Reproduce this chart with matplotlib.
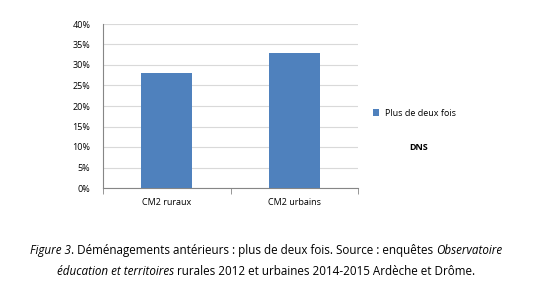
import matplotlib.pyplot as plt
from matplotlib.offsetbox import TextArea, HPacker, VPacker, AnchoredOffsetbox
from matplotlib.ticker import PercentFormatter

categories = ["CM2 ruraux", "CM2 urbains"]
values = [28, 33]
series_label = "Plus de deux fois"
yticks = [0, 5, 10, 15, 20, 25, 30, 35, 40]

BLUE = "#4F81BD"
AXIS_GREY = "#868686"
GRID_GREY = "#D9D9D9"
FONT = "Open Sans"

plt.rcParams["font.family"] = [FONT, "DejaVu Sans"]

fig = plt.figure(figsize=(5.36, 2.98), dpi=100)
# axes placed in pixels: left 103, right 358, top 24, bottom 188
ax = fig.add_axes([103 / 536, 1 - 188 / 298, 255 / 536, 164 / 298])

x = list(range(len(categories)))
ax.bar(x, values, width=0.4, color=BLUE, label=series_label, zorder=3)

ax.set_xlim(-0.5, len(categories) - 0.5)
ax.set_ylim(0, 40)
ax.set_yticks(yticks)
ax.yaxis.set_major_formatter(PercentFormatter(decimals=0))
ax.set_xticks(x)
ax.set_xticklabels(categories)
ax.set_xticks([-0.5, 0.5, 1.5], minor=True)
ax.tick_params(axis="x", which="major", length=0, pad=7, labelsize=6.5)
ax.tick_params(axis="x", which="minor", length=4, color=AXIS_GREY, direction="out")
ax.tick_params(axis="y", length=0, pad=9, labelsize=6.5)

ax.grid(axis="y", color=GRID_GREY, linewidth=0.8, zorder=0)
for side in ["top", "right"]:
    ax.spines[side].set_visible(False)
for side in ["left", "bottom"]:
    ax.spines[side].set_color(AXIS_GREY)
    ax.spines[side].set_linewidth(0.8)

fig.legend(loc="center left", bbox_to_anchor=(365 / 536, 1 - 113 / 298),
           frameon=False, fontsize=6.5, handlelength=0.7, handleheight=0.7,
           handletextpad=0.6)
fig.text(419 / 536, 1 - 147 / 298, "DNS", fontsize=6.5, fontweight="bold",
         ha="center", va="center")

# caption with mixed italic segments
fs = 8.4
def seg(s, italic=False):
    return TextArea(s, textprops=dict(fontsize=fs, family=FONT,
                                      style="italic" if italic else "normal"))

line1 = HPacker(children=[
    seg("Figure 3", True),
    seg(". Déménagements antérieurs : plus de deux fois. Source : enquêtes "),
    seg("Observatoire", True),
], pad=0, sep=0, align="baseline")
line2 = HPacker(children=[
    seg("éducation et territoires", True),
    seg(" rurales 2012 et urbaines 2014-2015 Ardèche et Drôme."),
], pad=0, sep=0, align="baseline")
caption = VPacker(children=[line1, line2], pad=0, sep=6, align="center")
anchored = AnchoredOffsetbox(loc="center", child=caption, frameon=False,
                             bbox_to_anchor=(266 / 536, 1 - 261 / 298),
                             bbox_transform=fig.transFigure, pad=0, borderpad=0)
fig.add_artist(anchored)

fig.savefig("out.png", dpi=100)
